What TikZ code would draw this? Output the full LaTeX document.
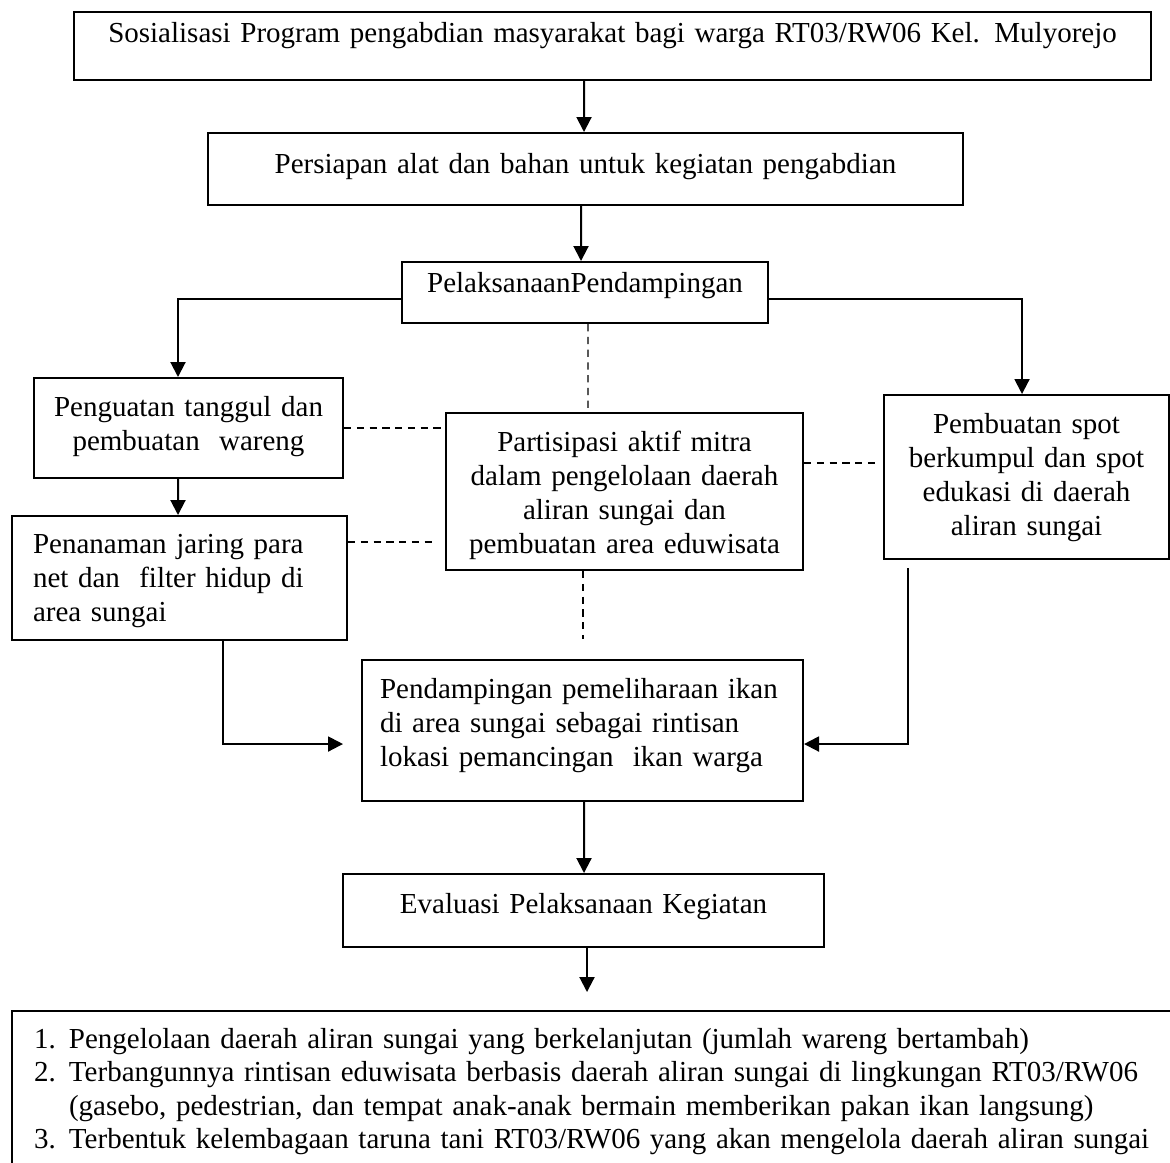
\documentclass[tikz,border=0pt]{standalone}
\usepackage{fontspec}
\setmainfont{Liberation Serif}
\usetikzlibrary{arrows.meta}
\newcommand{\nomor}[1]{\makebox[14pt][l]{#1}}
\tikzset{
  kotak/.style={draw, line width=0.8pt, rectangle, anchor=north west, inner xsep=0pt, inner ysep=0pt, align=center},
  panah/.style={-{Triangle[length=6pt,width=6pt]}, line width=0.8pt},
  putus/.style={line width=0.55pt, dash pattern=on 2.9pt off 2.2pt},
}
\begin{document}
\begin{tikzpicture}[x=0.4pt, y=-0.4pt, font=\fontsize{11.6pt}{13.6pt}\selectfont]

\path[use as bounding box, clip] (0,0) rectangle (1170,1162);

%boxes:
\node[kotak, text width=430.8pt, text height=12pt, text depth=15.2pt] (sosialisasi) at (73,11)
  {Sosialisasi Program pengabdian masyarakat bagi warga RT03/RW06 Kel. Mulyorejo};
\node[kotak, text width=302pt, text height=16pt, text depth=12.8pt] (persiapan) at (207,132)
  {Persiapan alat dan bahan untuk kegiatan pengabdian};
\node[kotak, text width=146.4pt, text height=12pt, text depth=12.4pt] (pelaksanaan) at (401,261)
  {PelaksanaanPendampingan};
\node[kotak, text width=123.6pt, text height=15.2pt, text depth=24.8pt] (penguatan) at (33,377)
  {Penguatan tanggul dan\\pembuatan\ \ wareng};
\node[kotak, align=left, inner xsep=8.4pt, text width=117.2pt, text height=14.8pt, text depth=34.8pt] (penanaman) at (11,515)
  {Penanaman jaring para\\net dan\ \ filter hidup di\\area sungai};
\node[kotak, text width=142.8pt, text height=15.2pt, text depth=47.6pt] (partisipasi) at (445,412)
  {Partisipasi aktif mitra\\dalam pengelolaan daerah\\aliran sungai dan\\pembuatan area eduwisata};
\node[kotak, text width=114pt, text height=15.2pt, text depth=50.4pt] (spot) at (883,394)
  {Pembuatan spot\\berkumpul dan spot\\edukasi di daerah\\aliran sungai};
\node[kotak, align=left, inner xsep=7.2pt, text width=162pt, text height=15.2pt, text depth=41.2pt] (pemeliharaan) at (361,659)
  {Pendampingan pemeliharaan ikan\\di area sungai sebagai rintisan\\lokasi pemancingan\ \ ikan warga};
\node[kotak, text width=192.4pt, text height=15.6pt, text depth=13.6pt] (evaluasi) at (342,873)
  {Evaluasi Pelaksanaan Kegiatan};
\node[kotak, align=left, inner xsep=8.8pt, text width=458pt, text height=14.8pt, text depth=61.2pt,
  font=\fontsize{11.6pt}{13.4pt}\selectfont] (hasil) at (11,1010)
  {\nomor{1.}Pengelolaan daerah aliran sungai yang berkelanjutan (jumlah wareng bertambah)\\
   \nomor{2.}Terbangunnya rintisan eduwisata berbasis daerah aliran sungai di lingkungan RT03/RW06\\
   \nomor{}(gasebo, pedestrian, dan tempat anak-anak bermain memberikan pakan ikan langsung)\\
   \nomor{3.}Terbentuk kelembagaan taruna tani RT03/RW06 yang akan mengelola daerah aliran sungai};

%free ends
\coordinate (ujungA) at (433,542);
\coordinate (ujungB) at (876,463);
\coordinate (ujungC) at (583,639);
\coordinate (ujungD) at (343,744);
\coordinate (awalE) at (908,568);
\coordinate (ujungF) at (587,992);

%arrows:
\draw[panah] ([xshift=-11.4pt]sosialisasi.south) -- ([xshift=-0.6pt]persiapan.north);
\draw[panah] ([xshift=-1.8pt]persiapan.south) -- ([xshift=-1.6pt]pelaksanaan.north);
\draw[panah] ([yshift=-2.6pt]pelaksanaan.west) -| ([xshift=-4.2pt]penguatan.north);
\draw[panah] ([yshift=-2.6pt]pelaksanaan.east) -| ([xshift=-1.8pt]spot.north);
\draw[panah] ([xshift=-4.2pt]penguatan.south) -- ([xshift=-0.6pt]penanaman.north);
\draw[panah] ([xshift=17.4pt]penanaman.south) |- (ujungD);
\draw[panah] (awalE) |- ([yshift=-5.4pt]pemeliharaan.east);
\draw[panah] ([xshift=0.6pt]pemeliharaan.south) -- ([xshift=0.2pt]evaluasi.north);
\draw[panah] (evaluasi.south -| ujungF) -- (ujungF);

%dashed links
\draw[putus] ([xshift=1.2pt]pelaksanaan.south) -- ([xshift=-14.6pt]partisipasi.north);
\draw[putus] (penguatan.east) -- (penguatan.east -| partisipasi.west);
\draw[putus] (penanaman.east |- ujungA) -- (ujungA);
\draw[putus] (partisipasi.east |- ujungB) -- (ujungB);
\draw[putus] (partisipasi.south -| ujungC) -- (ujungC);

\end{tikzpicture}
\end{document}
